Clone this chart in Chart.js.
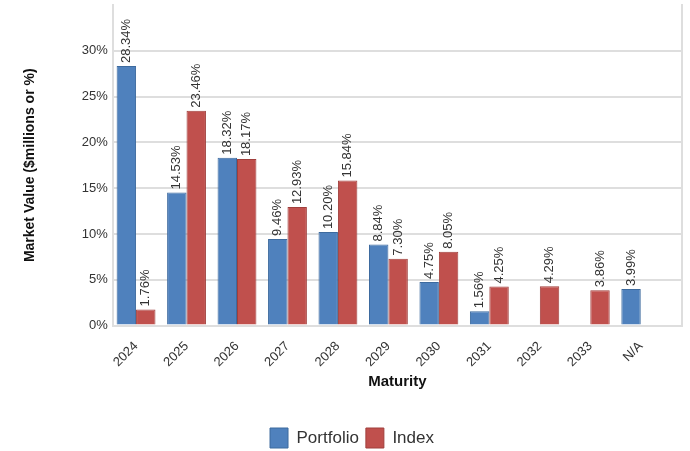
<!DOCTYPE html>
<html>
<head>
<meta charset="utf-8">
<script src="https://cdn.jsdelivr.net/npm/chart.js@4.4.0/dist/chart.umd.min.js"></script>
<style>
  html, body { margin: 0; padding: 0; background: #fff; }
  #wrap { width: 690px; height: 451px; }
</style>
</head>
<body>
<div id="wrap"><canvas id="myChart"></canvas></div>
<script>
var maturityLabels = ['2024', '2025', '2026', '2027', '2028', '2029', '2030', '2031', '2032', '2033', 'N/A'];
var portfolioValues = [28.34, 14.53, 18.32, 9.46, 10.20, 8.84, 4.75, 1.56, null, null, 3.99];
var indexValues = [1.76, 23.46, 18.17, 12.93, 15.84, 7.30, 8.05, 4.25, 4.29, 3.86, null];
var yTicks = [0, 5, 10, 15, 20, 25, 30];

var font = '"Liberation Sans", Arial, sans-serif';
var testo = '#333333';
var griglia = '#dedede';

// etichette verticali sopra le barre
var etichetteBarre = {
  id: 'etichetteBarre',
  afterDatasetsDraw: function(chart) {
    var ctx = chart.ctx;
    ctx.save();
    ctx.font = '13px ' + font;
    ctx.fillStyle = testo;
    ctx.textAlign = 'left';
    ctx.textBaseline = 'middle';
    chart.data.datasets.forEach(function(ds, i) {
      var meta = chart.getDatasetMeta(i);
      meta.data.forEach(function(bar, j) {
        var v = ds.data[j];
        if (v == null) return;
        ctx.save();
        ctx.translate(bar.x, bar.y - 3);
        ctx.rotate(-Math.PI / 2);
        ctx.fillText(v.toFixed(2) + '%', 0, 0);
        ctx.restore();
      });
    });
    ctx.restore();
  }
};

// le categorie occupano solo una parte della larghezza dell'area,
// la legenda sta un po' a destra del centro
var sistemaLayout = {
  id: 'sistemaLayout',
  afterLayout: function(chart) {
    var x = chart.scales.x;
    var l = x.left, r = x.right;
    x.left = l - 2;
    x.right = r - 16;
    x.configure();
    x.left = l;
    x.right = r;
    chart.legend.left += 14;
  }
};

var ctx = document.getElementById('myChart');
var chart = new Chart(ctx, {
  type: 'bar',
  data: {
    labels: maturityLabels,
    datasets: [{
      label: 'Portfolio',
      data: portfolioValues,
      backgroundColor: '#4f81bd',
      borderColor: '#3d6a9e',
      borderWidth: 1
    }, {
      label: 'Index',
      data: indexValues,
      backgroundColor: '#c0504d',
      borderColor: '#a03f3c',
      borderWidth: 1
    }]
  },
  options: {
    responsive: true,
    maintainAspectRatio: false,
    animation: false,
    layout: { padding: { left: 0, right: 0, top: 5, bottom: -7 } },
    datasets: { bar: { categoryPercentage: 0.77, barPercentage: 1 } },
    plugins: {
      legend: {
        position: 'bottom',
        labels: {
          boxWidth: 18,
          boxHeight: 20,
          padding: 7,
          color: testo,
          font: { family: font, size: 17 }
        }
      },
      tooltip: { enabled: false }
    },
    scales: {
      x: {
        grid: { display: false },
        border: { color: griglia, width: 2 },
        ticks: {
          minRotation: 45,
          maxRotation: 45,
          color: testo,
          padding: 5,
          font: { family: font, size: 13 }
        },
        title: {
          display: true,
          text: 'Maturity',
          color: '#111',
          padding: { top: -2, bottom: 30 },
          font: { family: font, size: 15, weight: 'bold' }
        }
      },
      y: {
        min: 0,
        max: 35,
        afterBuildTicks: function(axis) {
          axis.ticks = yTicks.map(function(v) { return { value: v }; });
        },
        afterFit: function(axis) {
          axis.paddingTop = 0;
        },
        grid: {
          color: griglia,
          lineWidth: 2,
          drawTicks: false
        },
        border: { color: griglia, width: 2 },
        ticks: {
          color: testo,
          padding: 5,
          font: { family: font, size: 13 },
          callback: function(v) { return v + '%'; }
        },
        title: {
          display: true,
          text: 'Market Value ($millions or %)',
          color: '#111',
          padding: { top: 22, bottom: 38 },
          font: { family: font, size: 14, weight: 'bold' }
        }
      },
      y2: {
        position: 'right',
        min: 0,
        max: 1,
        grid: { display: false },
        ticks: { display: false },
        border: { color: griglia, width: 2 }
      }
    }
  },
  plugins: [etichetteBarre, sistemaLayout]
});
</script>
</body>
</html>
